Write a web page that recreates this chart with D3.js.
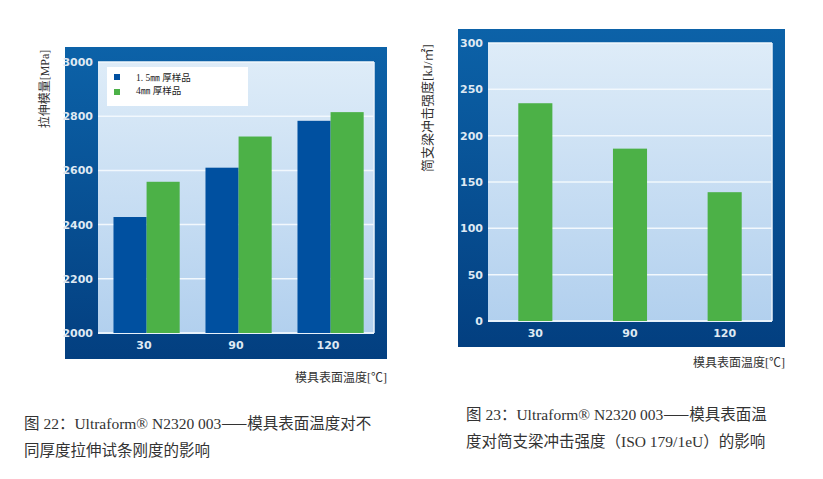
<!DOCTYPE html>
<html><head><meta charset="utf-8">
<script src="https://cdn.jsdelivr.net/npm/d3@7"></script>
<style>
html,body{margin:0;padding:0;background:#fff;}
svg{display:block;}
</style></head>
<body>
<svg id="c" width="823" height="479"></svg>
<script>
// ---- Data ----
const categories = ["30", "90", "120"];
const seriesNames = ["1. 5㎜ 厚样品", "4㎜ 厚样品"];
const modulus15mm = [2428, 2610, 2783];
const modulus4mm = [2558, 2725, 2815];
const modulusTicks = [2000, 2200, 2400, 2600, 2800, 3000];
const impactValues = [235, 186, 139];
const impactTicks = [0, 50, 100, 150, 200, 250, 300];

const leftYTitle = "拉伸模量[MPa]";
const rightYTitle = "简支梁冲击强度[kJ/㎡]";
const xTitle = "模具表面温度[℃]";
const caption1 = ["图 22：Ultraform® N2320 003——模具表面温度对不", "同厚度拉伸试条刚度的影响"];
const caption2 = ["图 23：Ultraform® N2320 003——模具表面温", "度对简支梁冲击强度（ISO 179/1eU）的影响"];

const BLUE = "#0050a0", GREEN = "#4cb147";
const svg = d3.select("#c");
const defs = svg.append("defs");
const fg = defs.append("linearGradient").attr("id","frameG").attr("x1",0).attr("y1",0).attr("x2",0).attr("y2",1);
fg.append("stop").attr("offset","0%").attr("stop-color","#0c62a8");
fg.append("stop").attr("offset","100%").attr("stop-color","#033f80");
const pg = defs.append("linearGradient").attr("id","plotG").attr("x1",0).attr("y1",0).attr("x2",0).attr("y2",1);
pg.append("stop").attr("offset","0%").attr("stop-color","#deecf8");
pg.append("stop").attr("offset","100%").attr("stop-color","#b2d0ee");

const sans = "'DejaVu Sans', Arial, sans-serif";
const cjk = "'Liberation Serif','Noto Sans CJK SC', serif";
const cjkOnly = "'Noto Sans CJK SC', sans-serif";

function panel(frame, plot, yDomain, yTicks) {
  svg.append("rect").attr("x",frame.x).attr("y",frame.y).attr("width",frame.w).attr("height",frame.h).attr("fill","url(#frameG)");
  svg.append("rect").attr("x",plot.x).attr("y",plot.y).attr("width",plot.w).attr("height",plot.h).attr("fill","url(#plotG)");
  const x = d3.scaleBand().domain(categories).range([plot.x, plot.x+plot.w]).paddingInner(0).paddingOuter(0);
  const y = d3.scaleLinear().domain(yDomain).range([plot.y+plot.h, plot.y]);
  svg.append("g").selectAll("line").data(yTicks.slice(1)).join("line")
    .attr("x1",plot.x).attr("x2",plot.x+plot.w).attr("y1",d=>y(d)).attr("y2",d=>y(d))
    .attr("stroke","#f2f8fd").attr("stroke-width",1.5);
  const ya = svg.append("g").attr("transform",`translate(${plot.x},0)`)
    .call(d3.axisLeft(y).tickValues(yTicks).tickFormat(d3.format("d")).tickSize(0).tickPadding(5));
  ya.select(".domain").remove();
  ya.selectAll("text").attr("fill","#dfe9f3").attr("font-family",sans).attr("font-size",11).attr("font-weight","bold");
  const xa = svg.append("g").attr("transform",`translate(0,${plot.y+plot.h})`)
    .call(d3.axisBottom(x).tickSize(0).tickPadding(8));
  xa.select(".domain").remove();
  xa.selectAll("text").attr("fill","#dfe9f3").attr("font-family",sans).attr("font-size",11).attr("font-weight","bold");
  svg.append("line").attr("x1",plot.x).attr("x2",plot.x+plot.w).attr("y1",plot.y+plot.h).attr("y2",plot.y+plot.h)
    .attr("stroke","#e8f2fb").attr("stroke-width",2);
  svg.append("line").attr("x1",plot.x+plot.w).attr("x2",plot.x+plot.w).attr("y1",plot.y).attr("y2",plot.y+plot.h)
    .attr("stroke","#e8f2fb").attr("stroke-width",1.5);
  return {x, y};
}

// ---- Left chart ----
const L = panel({x:65,y:47,w:322,h:312},{x:98,y:62,w:276,h:271},[2000,3000],modulusTicks);
const sub = d3.scaleBand().domain([0,1]).range([0, L.x.bandwidth()]).paddingInner(0).paddingOuter(0.39).align(0.6);
const leftData = categories.map((c,i)=>[modulus15mm[i], modulus4mm[i]]);
svg.append("g").selectAll("g").data(leftData).join("g")
  .attr("transform",(d,i)=>`translate(${L.x(categories[i])},0)`)
  .selectAll("rect").data(d=>d).join("rect")
  .attr("x",(d,j)=>sub(j)).attr("width",sub.bandwidth())
  .attr("y",d=>L.y(d)).attr("height",d=>L.y(2000)-L.y(d))
  .attr("fill",(d,j)=>j===0?BLUE:GREEN);
const lg = svg.append("g");
lg.append("rect").attr("x",107).attr("y",67).attr("width",141).attr("height",39).attr("fill","#fff");
seriesNames.forEach((n,i)=>{
  lg.append("rect").attr("x",114).attr("y",74+i*15).attr("width",6).attr("height",6).attr("fill",i===0?BLUE:GREEN);
  lg.append("text").attr("x",136).attr("y",81+i*13).attr("font-family",cjk).attr("font-size",9.5).attr("fill","#222").text(n);
});
svg.append("text").attr("transform","translate(49,89) rotate(-90)").attr("text-anchor","middle")
  .attr("font-family",cjk).attr("font-size",12).attr("fill","#333").text(leftYTitle);
svg.append("text").attr("x",387).attr("y",382).attr("text-anchor","end")
  .attr("font-family",cjk).attr("font-size",12).attr("fill","#333").text(xTitle);

// ---- Right chart ----
const R = panel({x:458,y:29,w:327,h:318},{x:488,y:43,w:284,h:278},[0,300],impactTicks);
const rb = d3.scaleBand().domain(categories).range([R.x.range()[0],R.x.range()[1]]).paddingInner(0.64).paddingOuter(0.32);
svg.append("g").selectAll("rect").data(impactValues).join("rect")
  .attr("x",(d,i)=>rb(categories[i])).attr("width",rb.bandwidth())
  .attr("y",d=>R.y(d)).attr("height",d=>R.y(0)-R.y(d)).attr("fill",GREEN);
svg.append("text").attr("transform","translate(432,108) rotate(-90)").attr("text-anchor","middle")
  .attr("font-family",cjk).attr("font-size",13).attr("fill","#333").text(rightYTitle);
svg.append("text").attr("x",785).attr("y",367).attr("text-anchor","end")
  .attr("font-family",cjk).attr("font-size",12).attr("fill","#333").text(xTitle);

// ---- Captions (em dashes drawn with the CJK font so they are full width) ----
function caption(lines, x, y0) {
  lines.forEach((t,i)=>{
    const tx = svg.append("text").attr("x",x).attr("y",y0+i*27)
      .attr("font-family",cjk).attr("font-size",15.5).attr("fill","#333");
    t.split(/(——)/).forEach(part=>{
      if (!part) return;
      const ts = tx.append("tspan").text(part);
      if (part === "——") ts.attr("font-family",cjkOnly);
    });
  });
}
caption(caption1, 24, 429);
caption(caption2, 466, 420);
</script>
</body></html>
